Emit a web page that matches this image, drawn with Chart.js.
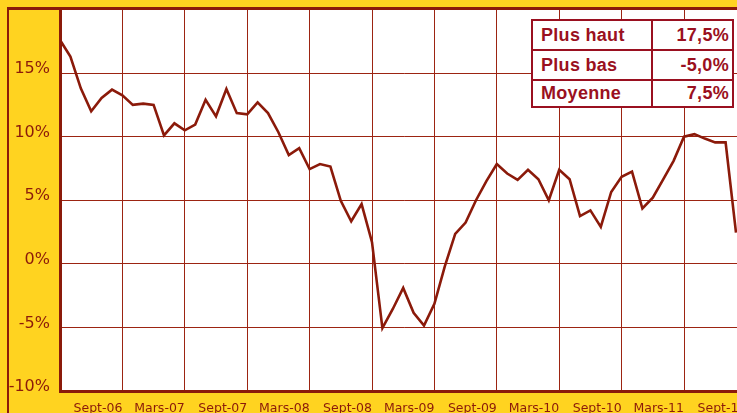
<!DOCTYPE html>
<html>
<head>
<meta charset="utf-8">
<script src="https://cdn.jsdelivr.net/npm/chart.js@4"></script>
<style>
  body { margin: 0; background: #ffd320; overflow: hidden; width: 737px; height: 413px; position: relative; }
  #wrap { position: absolute; left: 0; top: 0; width: 750px; height: 413px; }
  #frame { position: absolute; left: 7px; top: 7px; width: 760px; height: 420px;
           border-top: 3px solid #8b1a0a; border-left: 2px solid #8b1a0a; pointer-events: none; }
  #stats { position: absolute; left: 531px; top: 19px; width: 203px; border-collapse: collapse;
           background: #fff; border: 2px solid #9a1020; color: #9a1020;
           font: bold 18px "Liberation Sans", Arial, sans-serif; letter-spacing: 0.3px; }
  #stats td { border: 2px solid #9a1020; padding: 0 3px 0 8px; height: 28px; line-height: 28px; }
  #stats tr:last-child td { height: 25px; line-height: 25px; }
  #stats td.v { text-align: right; }
</style>
</head>
<body>
<div id="wrap"><canvas id="perfChart" width="750" height="413"></canvas></div>
<div id="frame"></div>
<table id="stats">
  <tr><td>Plus haut</td><td class="v">17,5%</td></tr>
  <tr><td>Plus bas</td><td class="v">-5,0%</td></tr>
  <tr><td>Moyenne</td><td class="v">7,5%</td></tr>
</table>
<script>
// mois de mars 2006 à septembre 2011
const moisNoms = ['Janv', 'Févr', 'Mars', 'Avr', 'Mai', 'Juin', 'Juil', 'Août', 'Sept', 'Oct', 'Nov', 'Déc'];
const mois = [];
for (let k = 2; k <= 68; k++) {
  const an = 6 + Math.floor(k / 12);
  mois.push(moisNoms[k % 12] + '-' + String(an).padStart(2, '0'));
}

// performance glissante (%)
const perf = [
  17.6, 16.3, 13.8, 12.0, 13.05, 13.7, 13.25, 12.5, 12.6, 12.5,
  10.1, 11.05, 10.5, 10.95, 12.9, 11.6, 13.75, 11.85, 11.75, 12.7,
  11.85, 10.35, 8.55, 9.1, 7.45, 7.85, 7.65, 4.95, 3.35, 4.7,
  1.7, -5.05, -3.55, -1.9, -3.85, -4.85, -3.15, -0.2, 2.35, 3.25,
  5.0, 6.5, 7.85, 7.1, 6.6, 7.4, 6.65, 5.0, 7.4, 6.65,
  3.75, 4.2, 2.9, 5.65, 6.85, 7.25, 4.35, 5.2, 6.65, 8.1,
  10.0, 10.2, 9.85, 9.55, 9.55, 2.45
];

const rouge = '#8b1a0a';
const grille = '#9c2412';

// fond blanc de la zone de tracé
const fondBlanc = {
  id: 'fondBlanc',
  beforeDraw(chart) {
    const a = chart.chartArea;
    const ctx = chart.ctx;
    ctx.save();
    ctx.fillStyle = '#fff';
    ctx.fillRect(a.left, a.top, chart.width - a.left, a.bottom - a.top);
    ctx.restore();
  }
};

const ctx = document.getElementById('perfChart').getContext('2d');
new Chart(ctx, {
  type: 'line',
  data: {
    labels: mois,
    datasets: [{
      data: perf,
      borderColor: rouge,
      borderWidth: 2.6,
      pointRadius: 0,
      tension: 0,
      fill: false
    }]
  },
  options: {
    responsive: false,
    animation: false,
    layout: { padding: { top: 9.5, right: 3.6, left: 0, bottom: 0 } },
    plugins: { legend: { display: false }, tooltip: { enabled: false } },
    scales: {
      x: {
        offset: false,
        afterFit: s => { s.height = 22; s.paddingLeft = 0; s.paddingRight = 0; },
        border: { color: rouge, width: 3 },
        grid: {
          drawTicks: false,
          color: c => (c.index % 6 === 0 ? grille : 'transparent'),
          lineWidth: 1
        },
        ticks: {
          autoSkip: false,
          maxRotation: 0,
          align: 'end',
          padding: 10,
          color: rouge,
          font: { family: 'DejaVu Sans', size: 12.5 },
          callback: (v, i) => (i % 6 === 0 && i > 0 ? mois[i] : '')
        }
      },
      y: {
        min: -10,
        max: 20,
        afterFit: s => { s.width = 60; s.paddingTop = 0; s.paddingBottom = 0; },
        border: { color: rouge, width: 3 },
        grid: { drawTicks: false, color: grille, lineWidth: 1 },
        ticks: {
          stepSize: 5,
          padding: 10,
          labelOffset: -4,
          color: rouge,
          font: { family: 'DejaVu Sans', size: 16 },
          callback: v => (v === 20 ? '' : v + '%')
        }
      }
    }
  },
  plugins: [fondBlanc]
});
</script>
</body>
</html>
